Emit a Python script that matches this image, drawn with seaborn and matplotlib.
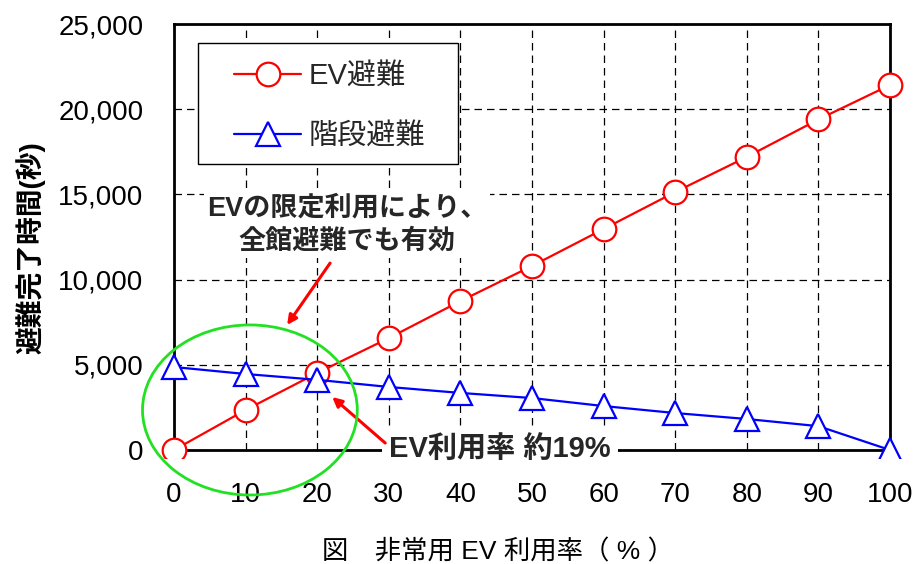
import matplotlib
matplotlib.use("Agg")
import matplotlib.pyplot as plt
import pandas as pd
import seaborn as sns
from matplotlib.patches import Ellipse, Rectangle
from matplotlib.ticker import FuncFormatter

# Evacuation completion time vs. emergency elevator usage rate
ev_rate = [0, 10, 20, 30, 40, 50, 60, 70, 80, 90, 100]
ev_evac = [0, 2350, 4520, 6570, 8740, 10800, 12970, 15140, 17200, 19400, 21420]
stair_evac = [4870, 4460, 4120, 3700, 3350, 3050, 2580, 2170, 1820, 1400, 0]
series_names = ["EV避難", "階段避難"]
x_ticks = [0, 10, 20, 30, 40, 50, 60, 70, 80, 90, 100]
y_ticks = [0, 5000, 10000, 15000, 20000, 25000]

df = pd.DataFrame({"rate": ev_rate, "ev": ev_evac, "stair": stair_evac})

sns.set_theme(style="white")
plt.rcParams["font.family"] = ["Liberation Sans", "Noto Sans CJK JP"]

fig = plt.figure(figsize=(9.13, 5.64), dpi=100)
ax = fig.add_axes([0.1906, 0.2021, 0.7842, 0.7553])

sns.lineplot(data=df, x="rate", y="ev", ax=ax, color="red", lw=1.6,
             marker="o", ms=17, mfc="white", mec="red", mew=1.6,
             label=series_names[0], zorder=4)
sns.lineplot(data=df, x="rate", y="stair", ax=ax, color="blue", lw=1.6,
             marker="^", ms=17, mfc="white", mec="blue", mew=1.6,
             label=series_names[1], zorder=4)

# clip markers only below the x axis, let them overhang left/right
clip = Rectangle((-0.05, -0.018), 1.1, 1.1, transform=ax.transAxes)
for ln in ax.lines:
    ln.set_clip_path(clip)

ax.set_xlim(0, 100)
ax.set_ylim(0, 25000)
ax.set_xticks(x_ticks)
ax.set_yticks(y_ticks)
ax.yaxis.set_major_formatter(FuncFormatter(lambda v, p: f"{int(v):,}"))
ax.tick_params(axis="both", length=0, labelsize=20, colors="black")
ax.tick_params(axis="y", pad=22)
ax.tick_params(axis="x", pad=23)

ax.grid(True, color="black", linestyle=(0, (6, 4)), linewidth=0.9)
ax.set_axisbelow(True)
for s in ax.spines.values():
    s.set_color("black")
    s.set_linewidth(2.0)

ax.set_ylabel("避難完了時間(秒)", fontsize=20, fontweight="bold", color="black")
ax.yaxis.set_label_coords(-0.18, 0.474)
ax.set_xlabel("図　非常用 EV 利用率（ % ）", fontsize=19, color="black")
ax.xaxis.set_label_coords(0.452, -0.21)

# legend box drawn as a separate frame, entries placed inside it
ax.add_patch(Rectangle((0.0335, 0.671), 0.3635, 0.284, transform=ax.transAxes,
                       facecolor="white", edgecolor="black", lw=1.0,
                       zorder=5.5))
leg = ax.legend(loc="upper left", bbox_to_anchor=(0.0838, 0.911),
                fontsize=21, frameon=False, borderpad=0,
                handlelength=2.3, handletextpad=0.25, labelspacing=1.1,
                borderaxespad=0)
leg.set_zorder(6)

# annotations
ax.text(24.2, 13200, "EVの限定利用により、\n全館避難でも有効", fontsize=19.5,
        fontweight="bold", ha="center", va="center", linespacing=1.4,
        bbox=dict(facecolor="white", edgecolor="none", pad=2), zorder=5)
ax.text(45.5, 0, "EV利用率 約19%", fontsize=21, fontweight="bold",
        ha="center", va="center",
        bbox=dict(facecolor="white", edgecolor="none", pad=5), zorder=5,
        clip_on=False)

ax.annotate("", xy=(15.8, 7340), xytext=(21.8, 10970),
            arrowprops=dict(arrowstyle="-|>", color="red", lw=2.2,
                            mutation_scale=14, shrinkA=0, shrinkB=0),
            zorder=5)
ax.annotate("", xy=(22.1, 3110), xytext=(29.5, 410),
            arrowprops=dict(arrowstyle="-|>", color="red", lw=2.2,
                            mutation_scale=14, shrinkA=0, shrinkB=0),
            zorder=5, annotation_clip=False)

ax.add_patch(Ellipse((10.6, 2350), width=30, height=9980, fill=False,
                     edgecolor="#22e022", lw=2.0, clip_on=False, zorder=5))

fig.savefig("out.png", dpi=100)
